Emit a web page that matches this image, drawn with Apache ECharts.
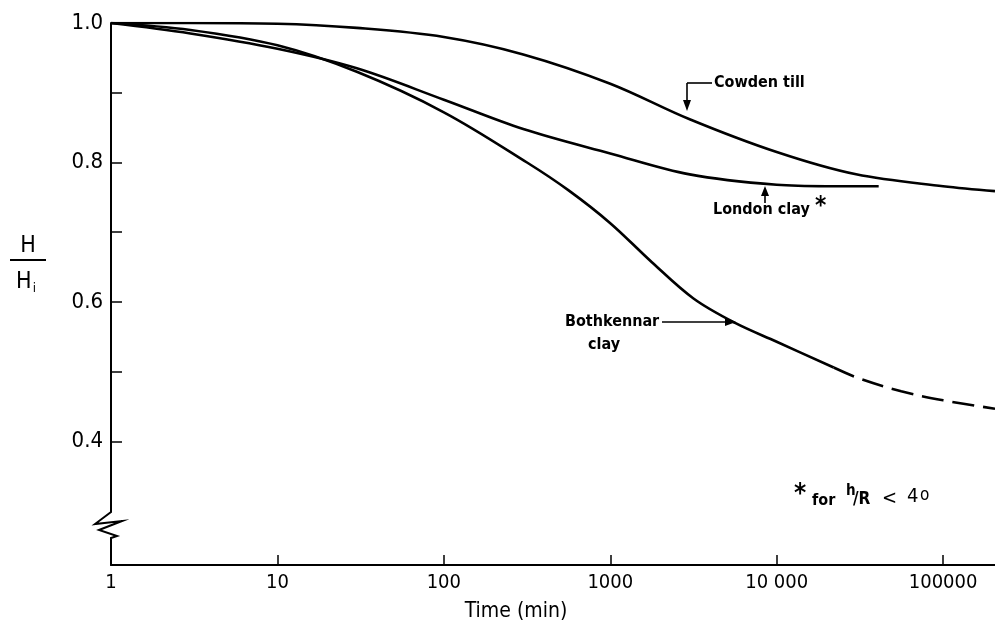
<!DOCTYPE html>
<html><head><meta charset="utf-8">
<script src="https://cdn.jsdelivr.net/npm/echarts@6/dist/echarts.min.js"></script>
<style>html,body{margin:0;padding:0;background:#fff}#chart{width:995px;height:637px}</style>
</head><body><div id="chart"></div>
<script>
// Height ratio H/Hi against time (min) for three soils
const cowdenTime = [1, 3, 10, 30, 100, 300, 1000, 3000, 10000, 30000, 100000, 205000];
const cowdenRatio = [1.0, 1.0, 0.999, 0.993, 0.98, 0.955, 0.913, 0.862, 0.815, 0.783, 0.766, 0.759];
const londonTime = [1, 3, 10, 30, 100, 300, 1000, 3000, 10000, 20000, 41000];
const londonRatio = [1.0, 0.985, 0.963, 0.935, 0.89, 0.848, 0.813, 0.783, 0.768, 0.766, 0.766];
const bothTime = [1, 3, 10, 30, 100, 316, 562, 1000, 1778, 3162, 5623, 10000, 22000];
const bothRatio = [1.0, 0.99, 0.968, 0.93, 0.872, 0.80, 0.76, 0.713, 0.657, 0.605, 0.57, 0.543, 0.506];
const bothExtTime = [22000, 31600, 56000, 100000, 205000];
const bothExtRatio = [0.506, 0.49, 0.472, 0.459, 0.447];
const xTickValues = [1, 10, 100, 1000, 10000, 100000];
const xTickText = ['1', '10', '100', '1000', '10 000', '100000'];
const yLabelValues = [0.4, 0.6, 0.8, 1.0];
const yTickValues = [0.4, 0.5, 0.6, 0.7, 0.8, 0.9, 1.0];

const zip = (a, b) => a.map((t, i) => [t, b[i]]);
const FONT = 'DejaVu Sans Condensed';
const chart = echarts.init(document.getElementById('chart'), null, {renderer: 'canvas'});

const curve = (name, data, dashed) => ({
  name, type: 'line', data, smooth: 0.35, showSymbol: false, silent: true,
  lineStyle: {color: '#000', width: 2.6, type: dashed ? [22, 9] : 'solid', cap: 'butt'}
});

const T = (x, y, text, size, bold, extra) => ({
  type: 'text', x, y, z: 50,
  style: Object.assign({
    text, fill: '#000', fontFamily: FONT, fontSize: size,
    fontWeight: bold ? 'bold' : 'normal', verticalAlign: 'middle', align: 'left'
  }, extra || {})
});
const L = (x1, y1, x2, y2, w) => ({type: 'line', z: 50, shape: {x1, y1, x2, y2}, style: {stroke: '#000', lineWidth: w || 1.6}});
const head = (pts) => ({type: 'polygon', z: 50, shape: {points: pts}, style: {fill: '#000'}});

chart.setOption({
  animation: false,
  backgroundColor: '#fff',
  grid: {left: 111, top: 23, right: 0, bottom: 72},
  xAxis: {
    type: 'log', logBase: 10, min: 1, max: 205000,
    axisLine: {lineStyle: {color: '#000', width: 2}},
    axisTick: {inside: true, length: 10, customValues: xTickValues, lineStyle: {color: '#000', width: 1.5}},
    minorTick: {show: false}, splitLine: {show: false},
    axisLabel: {
      margin: 8, color: '#000', fontFamily: FONT, fontSize: 20, customValues: xTickValues,
      formatter: v => { const i = xTickValues.indexOf(Math.round(v)); return i >= 0 ? xTickText[i] : ''; }
    }
  },
  yAxis: {
    type: 'value', min: 0.2229, max: 1.0,
    axisLine: {show: true, lineStyle: {color: '#000', width: 2}},
    axisTick: {show: true, inside: true, length: 11, customValues: yTickValues, lineStyle: {color: '#000', width: 1.5}},
    splitLine: {show: false},
    axisLabel: {
      margin: 8, color: '#000', fontFamily: FONT, fontSize: 22,
      customValues: yLabelValues, formatter: v => v.toFixed(1)
    }
  },
  series: [
    curve('Cowden till', zip(cowdenTime, cowdenRatio)),
    curve('London clay', zip(londonTime, londonRatio)),
    curve('Bothkennar clay', zip(bothTime, bothRatio)),
    curve('Bothkennar clay (extrapolated)', zip(bothExtTime, bothExtRatio), true)
  ],
  graphic: [
    // axis break on the ratio axis
    {type: 'rect', shape: {x: 104, y: 511, width: 14, height: 28}, style: {fill: '#fff'}, z: 100},
    {type: 'polyline', z: 101, shape: {points: [[111, 510], [111, 512], [95, 524], [122, 521], [99, 530], [117, 536], [111, 538], [111, 540]]},
      style: {stroke: '#000', lineWidth: 2, fill: null}},
    // x-axis title
    T(516, 612, 'Time (min)', 21, false, {align: 'center'}),
    // y-axis title H / Hi
    T(28, 246, 'H', 23, false, {align: 'center'}),
    L(10, 260, 46, 260, 2),
    {type: 'text', x: 26, y: 282, z: 50, style: {
      text: '{a|H}{b|i}', align: 'center', verticalAlign: 'middle',
      rich: {a: {fontFamily: FONT, fontSize: 23, fill: '#000'}, b: {fontFamily: FONT, fontSize: 13, fill: '#000', padding: [14, 0, 0, 1]}}
    }},
    // Cowden till label
    T(714, 83, 'Cowden till', 16, true),
    L(712, 83, 687, 83),
    L(687, 83, 687, 104),
    head([[683, 100], [691, 100], [687, 111]]),
    // London clay label
    T(713, 210, 'London clay', 16, true),
    T(815, 207, '*', 24, true),
    L(765, 203, 765, 193),
    head([[761, 196], [769, 196], [765, 186]]),
    // Bothkennar clay label
    T(565, 322, 'Bothkennar', 16, true),
    T(588, 345, 'clay', 16, true),
    L(662, 322, 728, 322),
    head([[725, 318], [725, 326], [736, 322]]),
    // footnote
    T(794, 495, '*', 26, true),
    T(812, 501, 'for', 16, true),
    T(846, 491, 'h', 15, true),
    T(853, 500, '/R', 17, true),
    T(882, 499, '<', 20),
    T(907, 497, '4', 20),
    T(920, 496, 'o', 17)
  ]
});
</script></body></html>
